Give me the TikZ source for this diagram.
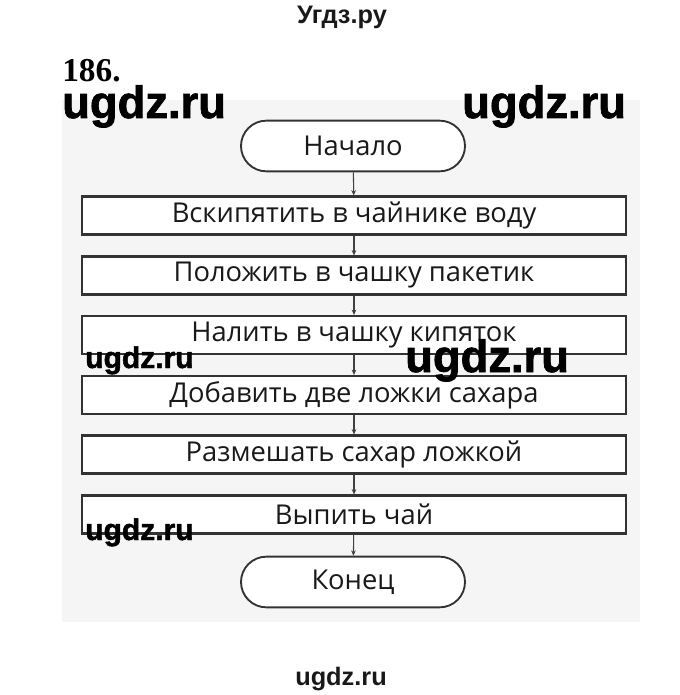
\documentclass[tikz,border=0pt]{standalone}
\usepackage{fontspec}
\setmainfont{Liberation Serif}
\newfontfamily\wmfont{Liberation Sans}[BoldFeatures={FakeBold=1.6}]
\newfontfamily\topfont{Liberation Sans}
\newfontfamily\boxfont{Open Sans}
\usetikzlibrary{arrows.meta,shapes.misc}
\begin{document}
\begin{tikzpicture}[x=0.75pt,y=-0.75pt,
  proc/.style={draw=black!80,line width=1.6pt,fill=white,rectangle,
    minimum width=408pt,minimum height=28.5pt,inner sep=0pt,
    font=\boxfont\fontsize{20.5}{23}\selectfont,text=black!90},
  term/.style={draw=black!80,line width=1.4pt,fill=white,rounded rectangle,
    minimum width=168pt,minimum height=38pt,inner sep=0pt,
    font=\boxfont\fontsize{20.5}{23}\selectfont,text=black!90},
  arr/.style={draw=black!75,line width=0.8pt,-{Stealth[length=4pt,width=3.5pt]}},
  wmbig/.style={anchor=base west,inner sep=0pt,font=\wmfont\bfseries\fontsize{34}{36}\selectfont},
  wmsmall/.style={anchor=base west,inner sep=0pt,font=\wmfont\bfseries\fontsize{22.5}{24}\selectfont},
  wmtop/.style={anchor=base,inner sep=0pt,font=\topfont\bfseries\fontsize{19}{21}\selectfont,text=black!90}
]
\useasboundingbox (0,0) rectangle (680,695);
\fill[black!4] (62,100) rectangle (640,622);
\node[term] (n0) at (353,146) {Начало};
\node[proc] (r1) at (354,215.5) {Вскипятить в чайнике воду};
\node[proc] (r2) at (354,275.5) {Положить в чашку пакетик};
\node[proc] (r3) at (354,335) {Налить в чашку кипяток};
\node[proc] (r4) at (354,395) {Добавить две ложки сахара};
\node[proc] (r5) at (354,454.5) {Размешать сахар ложкой};
\node[proc] (r6) at (354,514.5) {Выпить чай};
\node[term] (n7) at (353,582) {Конец};
\draw[arr] (n0) -- (r1);
\draw[arr] (r1) -- (r2);
\draw[arr] (r2) -- (r3);
\draw[arr] (r3) -- (r4);
\draw[arr] (r4) -- (r5);
\draw[arr] (r5) -- (r6);
\draw[arr] (r6) -- (n7);
\node[wmtop] (t1) at (342,24) {Угдз.ру};
\node[anchor=base west,inner sep=0pt,font=\bfseries\fontsize{25}{27}\selectfont] (t2) at (62,82) {186.};
\node[wmbig] (w1) at (62,118) {ugdz.ru};
\node[wmbig] (w2) at (462,118) {ugdz.ru};
\node[wmsmall] (w3) at (85,368) {ugdz.ru};
\node[wmbig] (w4) at (405,372) {ugdz.ru};
\node[wmsmall] (w5) at (85,540) {ugdz.ru};
\node[wmtop] (w6) at (341,685) {ugdz.ru};
\end{tikzpicture}
\end{document}
